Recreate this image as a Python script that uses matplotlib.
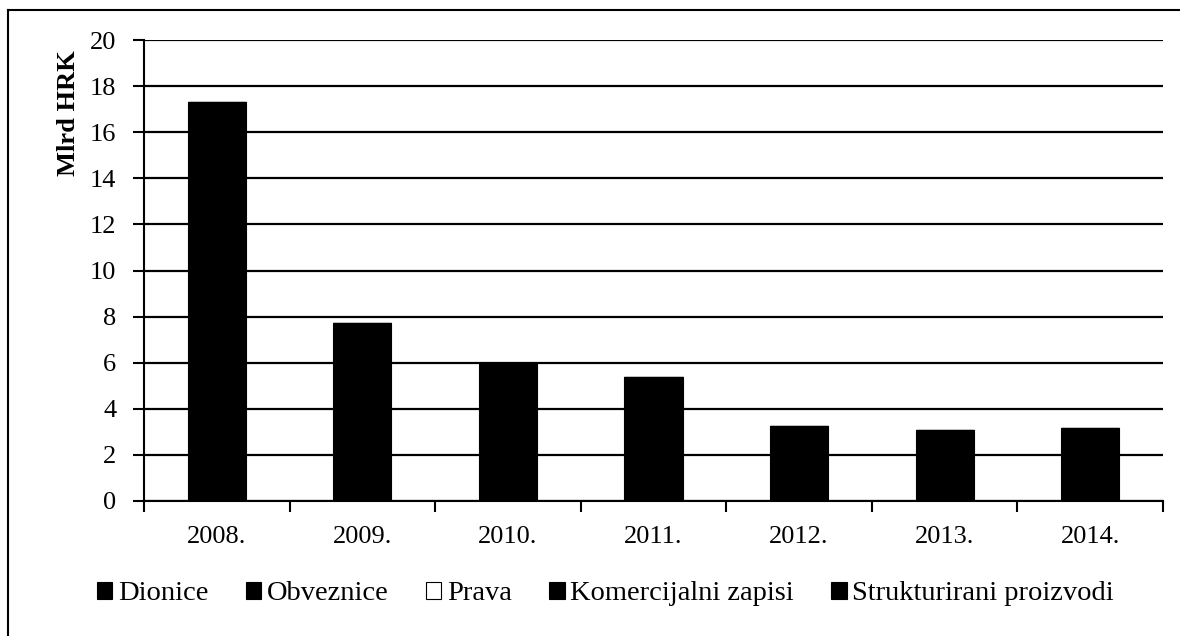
import numpy as np
import matplotlib
matplotlib.use('Agg')
import matplotlib.pyplot as plt
from matplotlib.patches import Patch
from matplotlib.lines import Line2D

# ── data ────────────────────────────────────────────────────────────────────
years = ['2008.', '2009.', '2010.', '2011.', '2012.', '2013.', '2014.']
series_names = ['Dionice', 'Obveznice', 'Prava', 'Komercijalni zapisi',
                'Strukturirani proizvodi']
# the split by instrument is not readable (all black); totals go in one series
dionice = [17.3, 7.72, 6.0, 5.38, 3.25, 3.1, 3.15]
obveznice = [0, 0, 0, 0, 0, 0, 0]
prava = [0, 0, 0, 0, 0, 0, 0]
komercijalni = [0, 0, 0, 0, 0, 0, 0]
strukturirani = [0, 0, 0, 0, 0, 0, 0]
series_vals = [dionice, obveznice, prava, komercijalni, strukturirani]
series_face = ['black', 'black', 'white', 'black', 'black']

plt.rcParams['font.family'] = ['Liberation Serif', 'DejaVu Serif']

fig = plt.figure(figsize=(11.8, 6.36), dpi=100)
ax = fig.add_axes([0.122, 0.2123, 0.8636, 0.7247])

x = np.arange(len(years)) + 0.5
bottom = np.zeros(len(years))
for name, vals, fc in zip(series_names, series_vals, series_face):
    vals = np.array(vals, dtype=float)
    ax.bar(x, vals, width=0.4, bottom=bottom, color=fc,
           edgecolor='black', linewidth=0.8, zorder=3)
    bottom += vals

ax.set_xlim(0, len(years))
ax.set_ylim(0, 20)
ax.set_yticks(np.arange(0, 21, 2))
ax.yaxis.grid(True, color='black', linewidth=1.6, zorder=0)
ax.set_axisbelow(True)

# category boundaries carry the ticks, labels sit in the middle
ax.set_xticks(np.arange(len(years) + 1))
ax.set_xticklabels([])
ax.set_xticks(x, minor=True)
ax.set_xticklabels(years, minor=True, fontsize=19)
ax.tick_params(axis='x', which='minor', length=0, pad=18)
ax.tick_params(axis='x', which='major', length=8, width=1.5, direction='out')
ax.tick_params(axis='y', length=8, width=1.5, direction='out', labelsize=19, pad=12)

for s in ['top', 'right']:
    ax.spines[s].set_visible(False)
ax.spines['left'].set_linewidth(1.5)
ax.spines['bottom'].set_linewidth(1.5)

fig.text(0.058, 1 - 113 / 636, 'Mlrd HRK', rotation=90, ha='center',
         va='center', fontsize=19, fontweight='bold')

handles = [Patch(facecolor=fc, edgecolor='black', linewidth=0.8)
           for fc in series_face]
fig.legend(handles, series_names, loc='center', bbox_to_anchor=(0.513, 1 - 594 / 636),
           ncol=5, frameon=False, fontsize=20.5, handlelength=0.55,
           handleheight=0.55, handletextpad=0.2, columnspacing=1.3)

# outer frame: left and top edges only
fig.add_artist(Line2D([8 / 1180, 8 / 1180], [0, 1 - 10 / 636],
                      transform=fig.transFigure, color='black', linewidth=1.5))
fig.add_artist(Line2D([8 / 1180, 1], [1 - 10 / 636, 1 - 10 / 636],
                      transform=fig.transFigure, color='black', linewidth=1.5))

fig.savefig('out.png', dpi=100)
